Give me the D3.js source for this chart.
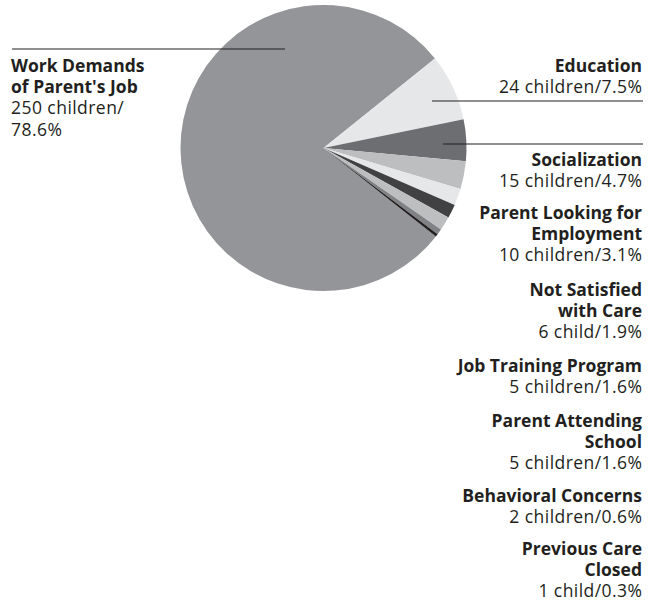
<!DOCTYPE html>
<html><head><meta charset="utf-8">
<script src="https://cdn.jsdelivr.net/npm/d3@7"></script>
<style>
html,body{margin:0;padding:0;background:#fff;}
svg{display:block;}
text{font-family:"Open Sans",sans-serif;fill:#231f20;font-size:17.5px;}
.r{letter-spacing:0.45px;}
.b{font-weight:700;letter-spacing:0px;}
</style></head>
<body>
<svg id="chart" width="658" height="603"></svg>
<script>
const categories = ["Work Demands of Parent's Job","Education","Socialization","Parent Looking for Employment","Not Satisfied with Care","Job Training Program","Parent Attending School","Behavioral Concerns","Previous Care Closed"];
const counts = [250,24,15,10,6,5,5,2,1];
const percents = ["78.6%","7.5%","4.7%","3.1%","1.9%","1.6%","1.6%","0.6%","0.3%"];
const units = ["children","children","children","children","child","children","children","children","child"];
const colors = ["#939598","#e6e7e8","#6d6e71","#bcbec0","#e6e7e8","#414042","#bcbec0","#808285","#231f20"];
const titleLines = [["Work Demands","of Parent's Job"],["Education"],["Socialization"],["Parent Looking for","Employment"],["Not Satisfied","with Care"],["Job Training Program"],["Parent Attending","School"],["Behavioral Concerns"],["Previous Care","Closed"]];

const svg = d3.select("#chart");
const cx = 323.5, cy = 148, r = 143;
const total = d3.sum(counts);
const firstSmallStart = 51.2 * Math.PI/180;
const start = firstSmallStart - 2*Math.PI*counts[0]/total;

const pie = d3.pie().sort(null).value(d=>d).startAngle(start).endAngle(start+2*Math.PI);
const arc = d3.arc().innerRadius(0).outerRadius(r);
const g = svg.append("g").attr("transform",`translate(${cx},${cy})`);
g.selectAll("path").data(pie(counts)).join("path")
  .attr("d",arc).attr("fill",(d,i)=>colors[i]);

const lines = [
  {x1:12,x2:285,y:49},
  {x1:432,x2:643,y:101},
  {x1:443,x2:643,y:144}
];
svg.selectAll("line.leader").data(lines).join("line").attr("class","leader")
  .attr("x1",d=>d.x1).attr("x2",d=>d.x2).attr("y1",d=>d.y).attr("y2",d=>d.y)
  .attr("stroke","#231f20").attr("stroke-width",1.1);

const lh = 21.2;
const left = svg.append("text").attr("x",11).attr("y",72);
titleLines[0].forEach((t,k)=>left.append("tspan").attr("class","b").attr("x",11).attr("dy",k?lh:0).text(t));
left.append("tspan").attr("class","r").attr("x",11).attr("dy",lh).text(`${counts[0]} ${units[0]}/`);
left.append("tspan").attr("class","r").attr("x",11).attr("dy",lh).text(percents[0]);

const lh2 = 21;
const firstBaselines = [null,72,166,219,296,372,427,502,555];
for(let i=1;i<categories.length;i++){
  const t = svg.append("text").attr("y",firstBaselines[i]).attr("text-anchor","end");
  titleLines[i].forEach((s,k)=>t.append("tspan").attr("class","b").attr("x",642).attr("dy",k?lh2:0).text(s));
  t.append("tspan").attr("class","r").attr("x",642.5).attr("dy",lh2).text(`${counts[i]} ${units[i]}/${percents[i]}`);
}
</script>
</body></html>
